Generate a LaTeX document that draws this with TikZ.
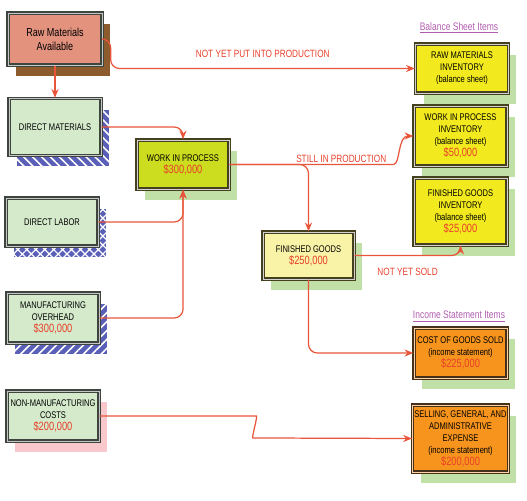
\documentclass[tikz,border=0pt]{standalone}
\usepackage{fontspec}
\setmainfont{Liberation Sans}[FakeStretch=0.78]
\usetikzlibrary{arrows.meta,shadows,patterns.meta}

\definecolor{flowred}{HTML}{E8553A}
\definecolor{amtred}{HTML}{E8402A}
\definecolor{labelpurple}{HTML}{B25DB0}
\definecolor{rawfill}{HTML}{E3927E}
\definecolor{rawshadow}{HTML}{8C5B2E}
\definecolor{srcfill}{HTML}{D4EACB}
\definecolor{srcline}{HTML}{3E443E}
\definecolor{hatchblue}{HTML}{5A60B8}
\definecolor{wipfill}{HTML}{CCDC1E}
\definecolor{fgfill}{HTML}{F8F3A6}
\definecolor{invfill}{HTML}{F2EA1E}
\definecolor{invline}{HTML}{45411E}
\definecolor{isfill}{HTML}{F7941E}
\definecolor{isline}{HTML}{45301A}
\definecolor{greenshadow}{HTML}{C1E0A8}
\definecolor{pinkshadow}{HTML}{F8C8CC}

\newcommand{\amt}[1]{{\fontsize{6.8}{7.6}\selectfont\color{amtred}#1}}

\tikzset{
  box/.style={rectangle, line width=0.75pt, double distance=0.55pt, align=center,
    inner sep=1pt, font=\fontsize{5.5}{6.8}\selectfont},
  shade at/.style={general shadow={fill=#1, shadow xshift=0.16cm, shadow yshift=-0.22cm}},
  hatch at/.style={general shadow={pattern={#1}, pattern color=white, shadow xshift=0.16cm, shadow yshift=-0.22cm}},
  rawbox/.style={box, draw=srcline, double=gray!45, fill=rawfill, shade at=rawshadow,
    minimum width=1.88cm, minimum height=1.04cm, font=\fontsize{6.6}{8}\selectfont},
  srcbox/.style={box, draw=srcline, double=gray!45, fill=srcfill, minimum width=1.84cm},
  wipbox/.style={box, draw=invline, double=gray!35, fill=wipfill, shade at=greenshadow,
    minimum width=1.84cm, minimum height=0.98cm},
  fgbox/.style={box, draw=invline, double=gray!35, fill=fgfill, shade at=greenshadow,
    minimum width=1.82cm, minimum height=0.94cm},
  invbox/.style={box, draw=invline, double=gray!35, fill=invfill, shade at=greenshadow,
    minimum width=1.86cm},
  isbox/.style={box, draw=isline, double=orange!35, fill=isfill, shade at=greenshadow,
    minimum width=1.86cm},
  flow/.style={draw=flowred, line width=0.7pt, rounded corners=5pt,
    -{Stealth[length=5pt,width=4pt]}},
  flowlabel/.style={text=amtred, font=\fontsize{6}{7}\selectfont, inner sep=1pt},
  section/.style={text=labelpurple, font=\fontsize{6.2}{7}\selectfont}
}

\begin{document}
\begin{tikzpicture}[x=0.02cm, y=-0.02cm]
\useasboundingbox (0,0) rectangle (527,500);

% cost sources
\node[rawbox] (rm) at (55,39) {Raw Materials\\Available};
\node[srcbox, shade at=hatchblue, hatch at={Lines[angle=-45, distance=3.6pt, line width=0.9pt]},
  minimum height=1.14cm] (dm) at (55,127) {DIRECT MATERIALS};
\node[srcbox, shade at=hatchblue, hatch at={Hatch[angle=45, distance=3.6pt, line width=0.7pt]},
  minimum height=0.96cm] (dl) at (52,222) {DIRECT LABOR};
\node[srcbox, shade at=hatchblue, hatch at={Lines[angle=45, distance=3.6pt, line width=0.9pt]},
  minimum height=1.00cm] (mo) at (53,318) {MANUFACTURING\\OVERHEAD\\\amt{\$300,000}};
\node[srcbox, shade at=pinkshadow, minimum height=1.00cm] (nmc) at (53,416) {NON-MANUFACTURING\\COSTS\\\amt{\$200,000}};

% production
\node[wipbox] (wip) at (183,164.5) {WORK IN PROCESS\\\amt{\$300,000}};
\node[fgbox] (fg) at (308.5,255.5) {FINISHED GOODS\\\amt{\$250,000}};

% balance sheet
\node[section] (bsi) at (459,28) {\underline{Balance Sheet Items}};
\node[invbox, minimum height=0.98cm] (rmi) at (462,68.5) {RAW MATERIALS\\INVENTORY\\(balance sheet)};
\node[invbox, minimum height=1.20cm] (wipi) at (460.5,136) {WORK IN PROCESS\\INVENTORY\\(balance sheet)\\\amt{\$50,000}};
\node[invbox, minimum height=1.34cm] (fgi) at (460.5,211.5) {FINISHED GOODS\\INVENTORY\\(balance sheet)\\\amt{\$25,000}};

% income statement
\node[section] (isi) at (459,317) {\underline{Income Statement Items}};
\node[isbox, minimum height=1.00cm] (cogs) at (460.5,353) {COST OF GOODS SOLD\\(income statement)\\\amt{\$225,000}};
\node[isbox, minimum height=1.34cm] (sga) at (460.5,438.5) {SELLING, GENERAL, AND\\ADMINISTRATIVE\\EXPENSE\\(income statement)\\\amt{\$200,000}};

% flows
\draw[flow] (rm.south) -- (dm.north);
\draw[flow] (rm.east) -- ++(8,0) |- (rmi.west)
  node[flowlabel, pos=0.75, above=5pt] {NOT YET PUT INTO PRODUCTION};
\draw[flow] (dm.east) -| (wip.north);
\draw[flow] (dl.east) -| (wip.south);
\draw[flow] (mo.east) -| (wip.south);
\draw[flow] (wip.east) -| (fg.north);
\draw[flow] (wip.east) -- ++(155,0)
  node[flowlabel, pos=0.72, above] {STILL IN PRODUCTION}
  to[out=0, in=180] (wipi.west);
\draw[flow] (fg.east) -| (fgi.south)
  node[flowlabel, pos=0.25, below=6pt] {NOT YET SOLD};
\draw[flow] (fg.south) |- (cogs.west);
\draw[flow] (nmc.east) -- ++(148,0) to[out=0, in=180] ++(14,22) -- (sga.west);
\end{tikzpicture}
\end{document}
